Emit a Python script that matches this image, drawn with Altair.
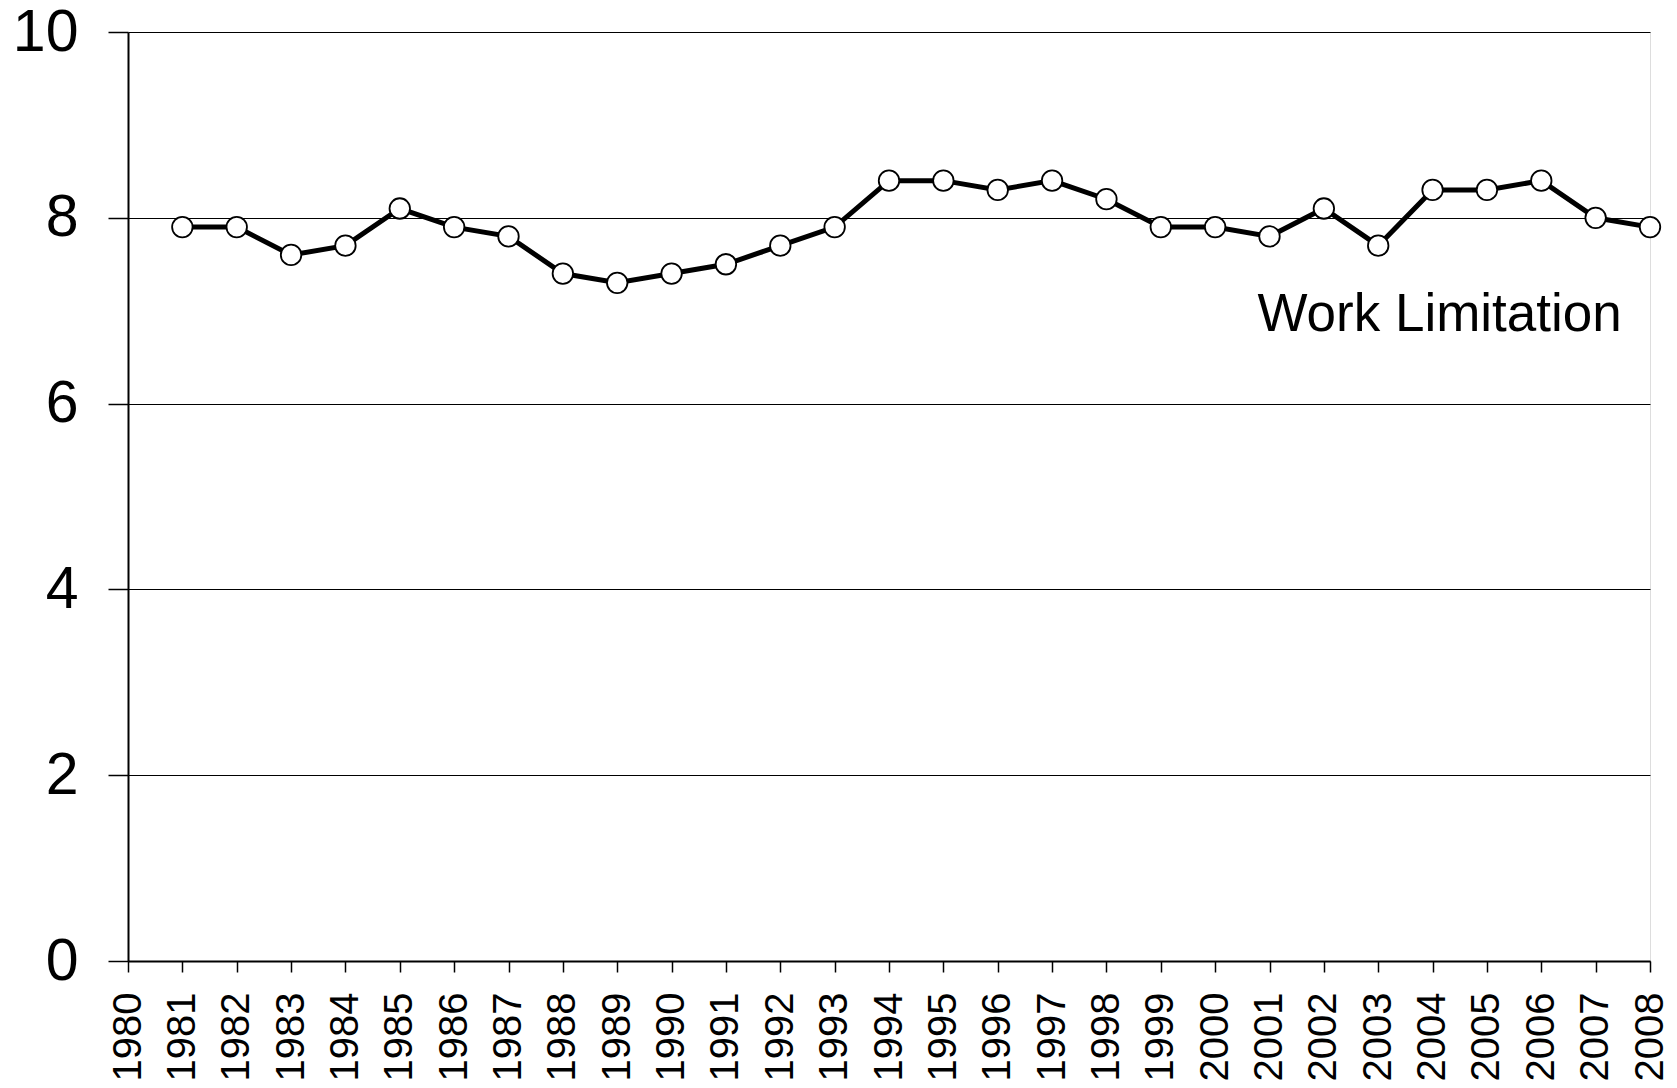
import altair as alt
import pandas as pd

years = list(range(1981, 2009))
values = [7.9, 7.9, 7.6, 7.7, 8.1, 7.9, 7.8, 7.4, 7.3, 7.4, 7.5, 7.7, 7.9, 8.4,
          8.4, 8.3, 8.4, 8.2, 7.9, 7.9, 7.8, 8.1, 7.7, 8.3, 8.3, 8.4, 8.0, 7.9]
tick_years = list(range(1980, 2009))
y_ticks = [0, 2, 4, 6, 8, 10]
label_text = ["Work Limitation"]
label_x = [2007.48]
label_y = [6.78]

df = pd.DataFrame({"year": years, "value": values})
lab = pd.DataFrame({"x": label_x, "y": label_y, "t": label_text})

FONT = "Arial, Liberation Sans, Helvetica, sans-serif"

xs = alt.Scale(domain=[1980, 2008], nice=False, zero=False)
ys = alt.Scale(domain=[0, 10], nice=False)

x_axis = alt.Axis(values=tick_years, format="d", labelAngle=270, labelFontSize=40,
                  labelFont=FONT, labelColor="black", labelPadding=20, tickSize=11,
                  tickColor="black", tickWidth=1.5, domainColor="black", domainWidth=2,
                  grid=False, title=None, labelOverlap=False, labelFlush=False)
y_axis = alt.Axis(values=y_ticks, format="d", labelFontSize=59, labelFont=FONT,
                  labelColor="black", labelPadding=30, tickSize=20, tickColor="black",
                  tickWidth=1.5, domainColor="black", domainWidth=2, grid=True,
                  gridColor="black", gridWidth=1.2, gridOpacity=1, title=None,
                  labelFlush=False)

base = alt.Chart(df).encode(
    x=alt.X("year:Q", scale=xs, axis=x_axis),
    y=alt.Y("value:Q", scale=ys, axis=y_axis),
)

line = base.mark_line(color="black", strokeWidth=5)
pts = base.mark_point(shape="circle", size=420, filled=True, fill="white",
                      stroke="black", strokeWidth=1.8, opacity=1)

txt = alt.Chart(lab).mark_text(align="right", baseline="alphabetic", fontSize=53,
                               font=FONT, color="black").encode(
    x=alt.X("x:Q", scale=xs), y=alt.Y("y:Q", scale=ys), text="t:N")

chart = alt.layer(line, pts, txt).properties(
    width=1522, height=929,
    autosize=alt.AutoSizeParams(type="none"),
    padding={"left": 120, "top": 24, "right": 19, "bottom": 119},
).configure_view(stroke="black", strokeWidth=1.5).configure(background="white")

chart.save("out.html", embed_options={"renderer": "svg", "actions": False})
